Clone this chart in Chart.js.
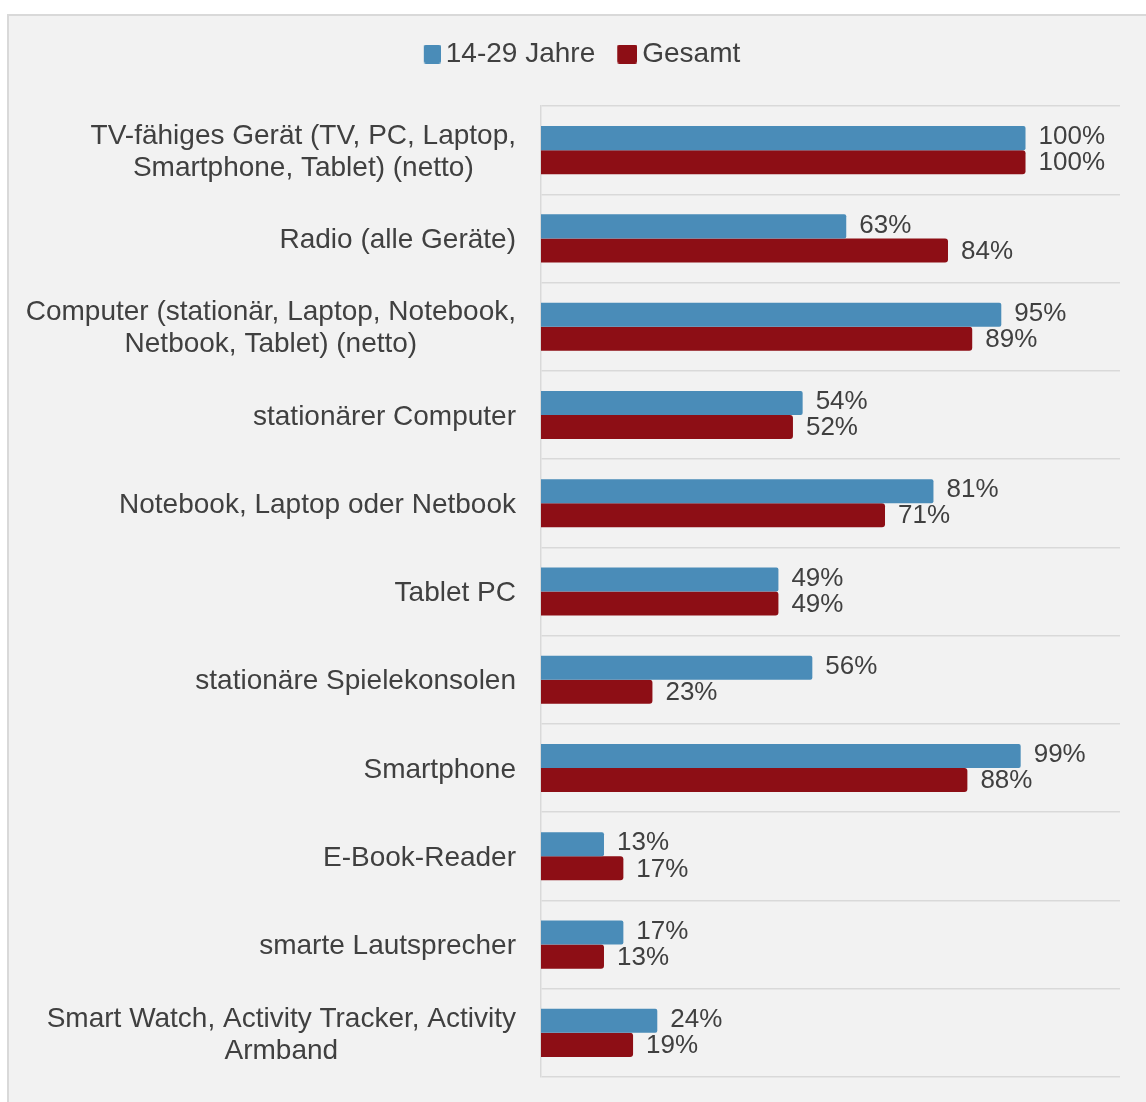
<!DOCTYPE html>
<html>
<head>
<meta charset="utf-8">
<script src="https://cdn.jsdelivr.net/npm/chart.js@4.4.1/dist/chart.umd.min.js"></script>
<style>
  html, body { margin: 0; padding: 0; background: #ffffff; }
  #wrap { width: 1146px; height: 1102px; position: relative; }
</style>
</head>
<body>
<div id="wrap"><canvas id="c" width="1146" height="1102"></canvas></div>
<script>
const categories = [
  ["TV-fähiges Gerät (TV, PC, Laptop,", "Smartphone, Tablet) (netto)"],
  "Radio (alle Geräte)",
  ["Computer (stationär, Laptop, Notebook,", "Netbook, Tablet) (netto)"],
  "stationärer Computer",
  "Notebook, Laptop oder Netbook",
  "Tablet PC",
  "stationäre Spielekonsolen",
  "Smartphone",
  "E-Book-Reader",
  "smarte Lautsprecher",
  ["Smart Watch, Activity Tracker, Activity", "Armband"]
];
const seriesNames = ["14-29 Jahre", "Gesamt"];
const youngValues = [100, 63, 95, 54, 81, 49, 56, 99, 13, 17, 24];
const totalValues = [100, 84, 89, 52, 71, 49, 23, 88, 17, 13, 19];
const seriesColors = ['#4a8cb8', '#8d0e15'];

const FONT = "'Liberation Sans', Arial, sans-serif";
const TEXT = '#404040';

// legend marker: square drawn on the right half of a wider canvas so it sits close to the text
function makeMarker(color, w) {
  const c = document.createElement('canvas');
  c.width = 36; c.height = 19;
  const g = c.getContext('2d');
  g.fillStyle = color;
  g.beginPath();
  if (g.roundRect) { g.roundRect(36 - w, 0, w, 19, 2); } else { g.rect(36 - w, 0, w, 19); }
  g.fill();
  return c;
}
const markers = [makeMarker(seriesColors[0], 17), makeMarker(seriesColors[1], 20)];

const framePlugin = {
  id: 'frame',
  beforeDraw(chart) {
    if (chart.legend) { chart.legend.left = 34; }
    const ctx = chart.ctx;
    ctx.save();
    ctx.fillStyle = '#ffffff';
    ctx.fillRect(0, 0, chart.width, chart.height);
    ctx.fillStyle = '#f2f2f2';
    ctx.fillRect(8, 15, chart.width + 10, chart.height + 10);
    ctx.strokeStyle = '#d9d9d9';
    ctx.lineWidth = 2;
    ctx.strokeRect(8, 15, chart.width + 10, chart.height + 10);
    ctx.restore();
  }
};

// category labels: right-aligned block, lines centred within the block
const categoryLabels = {
  id: 'categoryLabels',
  afterDraw(chart) {
    const scale = chart.scales.y;
    const ctx = chart.ctx;
    ctx.save();
    ctx.font = '28px ' + FONT;
    ctx.fillStyle = TEXT;
    ctx.textAlign = 'center';
    ctx.textBaseline = 'middle';
    const right = scale.right - 25;
    const lh = 32;
    chart.data.labels.forEach((lab, i) => {
      const lines = Array.isArray(lab) ? lab : [lab];
      const maxW = Math.max(...lines.map(l => ctx.measureText(l).width));
      const cx = right - maxW / 2;
      const cy = scale.getPixelForTick(i) + 2;
      lines.forEach((l, j) => {
        ctx.fillText(l, cx, cy + (j - (lines.length - 1) / 2) * lh);
      });
    });
    ctx.restore();
  }
};

const valueLabels = {
  id: 'valueLabels',
  afterDatasetsDraw(chart) {
    const ctx = chart.ctx;
    ctx.save();
    ctx.font = '26px ' + FONT;
    ctx.fillStyle = TEXT;
    ctx.textAlign = 'left';
    ctx.textBaseline = 'middle';
    chart.data.datasets.forEach((ds, di) => {
      const meta = chart.getDatasetMeta(di);
      meta.data.forEach((el, i) => {
        ctx.fillText(ds.data[i] + '%', el.x + 13, el.y + (di === 0 ? -1 : 1));
      });
    });
    ctx.restore();
  }
};

new Chart(document.getElementById('c'), {
  type: 'bar',
  data: {
    labels: categories,
    datasets: [
      { label: seriesNames[0], data: youngValues, backgroundColor: seriesColors[0], borderWidth: 0, borderRadius: 2, borderSkipped: 'start' },
      { label: seriesNames[1], data: totalValues, backgroundColor: seriesColors[1], borderWidth: 0, borderRadius: 3, borderSkipped: 'start' }
    ]
  },
  options: {
    indexAxis: 'y',
    responsive: false,
    animation: false,
    devicePixelRatio: 1,
    layout: { padding: { top: 25, right: 26, bottom: 25, left: 0 } },
    datasets: { bar: { categoryPercentage: 0.545, barPercentage: 1.0 } },
    plugins: {
      legend: {
        position: 'top',
        labels: {
          font: { family: FONT, size: 28 },
          color: TEXT,
          boxWidth: 18,
          boxHeight: 18,
          padding: 15,
          usePointStyle: true,
          generateLabels(chart) {
            const items = Chart.defaults.plugins.legend.labels.generateLabels(chart);
            items.forEach((it, i) => { it.pointStyle = markers[i]; });
            return items;
          }
        }
      },
      tooltip: { enabled: false }
    },
    scales: {
      x: {
        position: 'top',
        min: 0,
        max: 119.5,
        ticks: { display: false },
        grid: { display: false },
        border: { display: false },
        afterFit(scale) { scale.height = 28; }
      },
      y: {
        grid: { offset: true, color: '#d9d9d9', lineWidth: 1.5, drawTicks: false },
        border: { display: true, color: '#d9d9d9', width: 1.5 },
        ticks: { display: false },
        afterFit(scale) {
          scale.width = 541;
          scale.paddingTop = 0;
          scale.paddingBottom = 0;
        }
      }
    }
  },
  plugins: [framePlugin, categoryLabels, valueLabels]
});
</script>
</body>
</html>
